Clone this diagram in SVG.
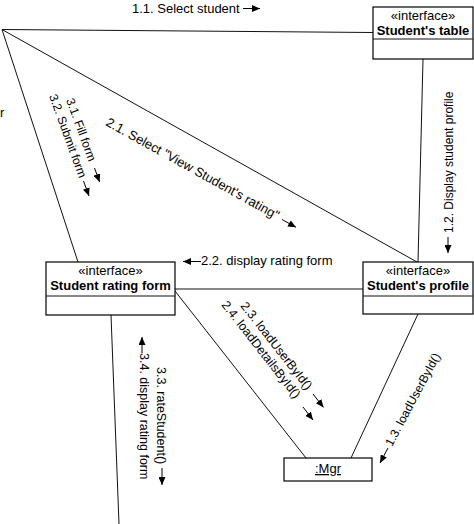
<svg xmlns="http://www.w3.org/2000/svg" width="474" height="524" viewBox="0 0 474 524">
<defs>
<marker id="ah" markerUnits="userSpaceOnUse" markerWidth="9" markerHeight="7" refX="8" refY="3.5" orient="auto">
<path d="M0,0 L8,3.5 L0,7 z" fill="#000"/>
</marker>
<style>
.t{font-family:"Liberation Sans",Arial,sans-serif;font-size:13px;fill:#000}
.s{font-size:12px}
.m{font-size:12.5px}
.b{font-weight:bold}
.c{text-anchor:middle}
.box{fill:#fff;stroke:#000;stroke-width:1.2}
.ln{fill:none;stroke:#111;stroke-width:1}
.ar{fill:none;stroke:#000;stroke-width:1;marker-end:url(#ah)}
</style>
</defs>
<rect width="474" height="524" fill="#fff"/>
<g id="connectors">
<line class="ln" x1="2" y1="29.5" x2="373" y2="32.5"/>
<line class="ln" x1="2" y1="29.5" x2="417" y2="262"/>
<line class="ln" x1="2" y1="29.5" x2="78" y2="262"/>
<line class="ln" x1="423" y1="59" x2="418" y2="262"/>
<line class="ln" x1="175" y1="289" x2="363" y2="289"/>
<line class="ln" x1="175" y1="291" x2="306" y2="458"/>
<line class="ln" x1="418" y1="314" x2="351" y2="458"/>
<line class="ln" x1="111" y1="315" x2="119" y2="524"/>
</g>
<g id="labels">
<text class="t" x="132" y="12.5">1.1. Select student</text>
<line class="ar" x1="243" y1="8.5" x2="260" y2="8.5"/>
<text class="t s" transform="translate(453,233) rotate(-90)">1.2. Display student profile</text>
<line class="ar" x1="448" y1="237" x2="448" y2="253"/>
<text class="t" transform="translate(105,125) rotate(29)">2.1. Select "View Student's rating"</text>
<line class="ar" x1="282" y1="219.5" x2="296" y2="227.3"/>
<text class="t" x="201" y="265">2.2. display rating form</text>
<line class="ar" x1="201" y1="261.5" x2="183" y2="261.5"/>
<text class="t s" transform="translate(66,100) rotate(70)">3.1. Fill form</text>
<line class="ar" x1="94.5" y1="168" x2="99.6" y2="182"/>
<text class="t s" transform="translate(49,96) rotate(70)">3.2. Submit form</text>
<line class="ar" x1="83.5" y1="181" x2="89" y2="196"/>
<text class="t m" transform="translate(240,306) rotate(52)">2.3. loadUserById()</text>
<line class="ar" x1="313" y1="394" x2="323.5" y2="407.4"/>
<text class="t m" transform="translate(221,305) rotate(52)">2.4. loadDetailsById()</text>
<line class="ar" x1="303" y1="407" x2="313" y2="420"/>
<text class="t s" transform="translate(392,447) rotate(-62)">1.3. loadUserById()</text>
<line class="ar" x1="388" y1="448" x2="380" y2="463"/>
<text class="t m" transform="translate(156.5,367) rotate(90)">3.3. rateStudent()</text>
<line class="ar" x1="162" y1="468" x2="162" y2="485"/>
<text class="t m" transform="translate(140,353) rotate(90)">3.4. display rating form</text>
<line class="ar" x1="142" y1="353" x2="142" y2="337"/>
<text class="t" x="0" y="117">r</text>
</g>
<g id="students-table">
<rect class="box" x="373" y="7" width="100" height="52"/>
<line class="ln" x1="373" y1="39" x2="473" y2="39"/>
<text class="t c" x="423" y="19.5">«interface»</text>
<text class="t b c" x="423" y="35">Student's table</text>
</g>
<g id="student-rating-form">
<rect class="box" x="46" y="262" width="129" height="53"/>
<line class="ln" x1="46" y1="296" x2="175" y2="296"/>
<text class="t c" x="110.5" y="274.5">«interface»</text>
<text class="t b c" x="110.5" y="290">Student rating form</text>
</g>
<g id="students-profile">
<rect class="box" x="363" y="262" width="110" height="52"/>
<line class="ln" x1="363" y1="296" x2="473" y2="296"/>
<text class="t c" x="418" y="274.5">«interface»</text>
<text class="t b c" x="418" y="290">Student's profile</text>
</g>
<g id="mgr">
<rect class="box" x="284" y="458" width="88" height="23"/>
<text class="t c" x="328" y="473" text-decoration="underline">:Mgr</text>
</g>
</svg>
